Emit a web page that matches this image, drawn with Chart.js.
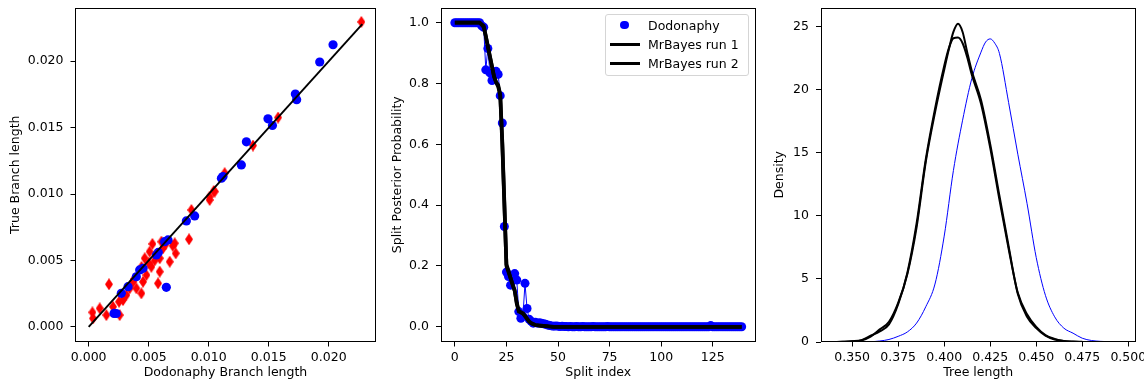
<!DOCTYPE html>
<html>
<head>
<meta charset="utf-8">
<script src="https://cdn.jsdelivr.net/npm/chart.js@4.4.1/dist/chart.umd.min.js"></script>
<style>
html,body{margin:0;padding:0;background:#fff;overflow:hidden;width:1144px;height:382px;position:relative;}
canvas{position:absolute;top:0;}
#legend{position:absolute;left:605px;top:14px;width:142px;height:60px;border:1px solid #d5d5d5;border-radius:3px;background:rgba(255,255,255,0.8);font-family:'DejaVu Sans';font-size:12.5px;line-height:15px;color:#000;}
#legend .t{position:absolute;left:42px;white-space:nowrap;}
#legend .dot{position:absolute;left:14px;top:5.75px;width:8.5px;height:8.5px;border-radius:50%;background:#0000ff;}
#legend .ln{position:absolute;left:4px;width:29.5px;height:3.5px;background:#000;}
</style>
</head>
<body>
<canvas id="c1" width="385" height="382" style="left:0;width:385px;height:382px"></canvas>
<canvas id="c2" width="380" height="382" style="left:385px;width:380px;height:382px"></canvas>
<canvas id="c3" width="415" height="382" style="left:765px;width:415px;height:382px"></canvas>
<div id="legend">
  <span class="dot"></span><span class="t" style="top:2.7px">Dodonaphy</span>
  <span class="ln" style="top:27.5px"></span><span class="t" style="top:22px">MrBayes run 1</span>
  <span class="ln" style="top:46.5px"></span><span class="t" style="top:41px">MrBayes run 2</span>
</div>
<script>
// ---------------- Panel 1: branch lengths ----------------
const branchTicks = [0, 0.005, 0.010, 0.015, 0.020];
const branchTickLabels = ['0.000', '0.005', '0.010', '0.015', '0.020'];
const identityLine = [0, 0.0228];
const dodoBranchX = [0.02036,0.01925,0.01722,0.01733,0.01494,0.01531,0.01314,0.01272,0.01119,0.01106,0.00883,0.00814,0.00661,0.00633,0.00564,0.00580,0.00425,0.00453,0.00397,0.00328,0.00272,0.00647,0.00211,0.00230];
const dodoBranchY = [0.02124,0.01994,0.01753,0.01710,0.01566,0.01516,0.01393,0.01219,0.01131,0.01119,0.00835,0.00797,0.00654,0.00641,0.00541,0.00560,0.00428,0.00440,0.00377,0.00302,0.00252,0.00297,0.00101,0.00100];
const mbBranchX = [0.02272,0.01578,0.01369,0.01133,0.01042,0.01008,0.01050,0.01008,0.00856,0.00836,0.00717,0.00531,0.00606,0.00725,0.00467,0.00592,0.00522,0.00592,0.00578,0.00439,0.00169,0.00369,0.00314,0.00342,0.00253,0.00203,0.00147,0.00031,0.00036,0.00258,0.00481,0.00508,0.00675,0.00619,0.00453,0.00397,0.00286,0.00092,0.00500,0.00440,0.00380,0.00550,0.00640,0.00700];
const mbBranchY = [0.02296,0.01576,0.01365,0.01157,0.01023,0.00980,0.01018,0.00955,0.00880,0.00659,0.00629,0.00624,0.00641,0.00553,0.00516,0.00516,0.00452,0.00415,0.00327,0.00252,0.00320,0.00339,0.00239,0.00290,0.00189,0.00151,0.00088,0.00109,0.00063,0.00088,0.00390,0.00566,0.00490,0.00591,0.00339,0.00290,0.00201,0.00139,0.00480,0.00450,0.00360,0.00500,0.00620,0.00610];

// ---------------- Panel 2: split posteriors ----------------
const splitTicks = [0, 25, 50, 75, 100, 125];
const splitTickLabels = ['0', '25', '50', '75', '100', '125'];
const probTicks = [0, 0.2, 0.4, 0.6, 0.8, 1.0];
const probTickLabels = ['0.0', '0.2', '0.4', '0.6', '0.8', '1.0'];
const dodoSplit = [
 1,1,1,1,1,1,1,1,1,1,
 1,1,1,0.99,0.985,0.845,0.915,0.835,0.81,0.83,
 0.84,0.83,0.76,0.67,0.33,0.18,0.165,0.137,0.16,0.175,
 0.154,0.05,0.028,0.035,0.143,0.06,0.025,0.018,0.012,0.015,
 0.012,0.013,0.012,0.01,0.008,0.006,0.004,0.003,0.002,0.003,
 0.002,0.001,0.002,0.001,0.001,0,0.001,0,0,0.001,
 0,0,0.001,0,0,0,0,0.001,0,0,
 0,0,0,0,0.001,0,0,0,0,0,
 0,0,0,0,0,0,0,0,0,0,
 0,0,0,0,0,0,0,0,0,0,
 0,0,0,0,0,0,0,0,0,0,
 0,0,0,0,0,0,0,0,0,0,
 0,0,0,0,0.004,0,0,0,0,0,
 0,0,0,0,0,0,0,0,0,0];
const mrBayesRun1 = [
 1,1,1,1,1,1,1,1,1,1,
 1,1,1,0.995,0.99,0.957,0.924,0.89,0.857,0.824,
 0.805,0.795,0.765,0.61,0.41,0.2,0.18,0.16,0.14,0.12,
 0.075,0.05,0.048,0.045,0.035,0.027,0.018,0.012,0.008,0.006,
 0.005,0.004,0.004,0.003,0.002,0.002,0.001,0.001,0,0,
 0,0,0,0,0,0,0,0,0,0,
 0,0,0,0,0,0,0,0,0,0,
 0,0,0,0,0,0,0,0,0,0,
 0,0,0,0,0,0,0,0,0,0,
 0,0,0,0,0,0,0,0,0,0,
 0,0,0,0,0,0,0,0,0,0,
 0,0,0,0,0,0,0,0,0,0,
 0,0,0,0,0,0,0,0,0,0,
 0,0,0,0,0,0,0,0,0,0];
const mrBayesRun2 = [
 1,1,1,1,1,1,1,1,1,1,
 1,1,1,0.993,0.985,0.955,0.92,0.888,0.855,0.822,
 0.803,0.79,0.76,0.6,0.4,0.205,0.185,0.16,0.138,0.118,
 0.08,0.052,0.047,0.043,0.036,0.026,0.017,0.012,0.009,0.006,
 0.005,0.004,0.003,0.003,0.002,0.001,0.001,0,0,0,
 0,0,0,0,0,0,0,0,0,0,
 0,0,0,0,0,0,0,0,0,0,
 0,0,0,0,0,0,0,0,0,0,
 0,0,0,0,0,0,0,0,0,0,
 0,0,0,0,0,0,0,0,0,0,
 0,0,0,0,0,0,0,0,0,0,
 0,0,0,0,0,0,0,0,0,0,
 0,0,0,0,0,0,0,0,0,0,
 0,0,0,0,0,0,0,0,0,0];
const splitIndex = dodoSplit.map((_, i) => i);

// ---------------- Panel 3: tree length densities ----------------
const treeTicks = [0.350, 0.375, 0.400, 0.425, 0.450, 0.475, 0.500];
const treeTickLabels = ['0.350', '0.375', '0.400', '0.425', '0.450', '0.475', '0.500'];
const densTicks = [0, 5, 10, 15, 20, 25];
const densTickLabels = ['0', '5', '10', '15', '20', '25'];
const mbTreeGrid = [0.340,0.345,0.350,0.355,0.360,0.365,0.370,0.375,0.380,0.385,0.390,0.395,0.400,0.4025,0.405,0.4075,0.410,0.4125,0.415,0.420,0.425,0.430,0.435,0.440,0.445,0.450,0.455,0.460,0.465,0.470,0.475];
const mbTreeDens1 = [0,0.02,0.05,0.12,0.42,1.0,1.6,3.1,5.4,9.1,14.3,18.2,21.6,23.2,24.6,25.25,24.6,23.0,21.5,19.2,15.7,11.6,7.6,3.8,2.0,1.1,0.5,0.2,0.07,0.02,0];
const mbTreeDens2 = [0,0.02,0.06,0.15,0.5,0.85,1.4,3.0,5.5,9.4,14.5,18.5,21.9,23.3,24.1,24.15,23.7,22.6,21.2,18.9,15.4,11.3,7.4,3.9,2.2,1.2,0.55,0.25,0.08,0.03,0.01];
const dodoTreeGrid = [0.355,0.360,0.365,0.370,0.375,0.380,0.385,0.390,0.395,0.400,0.405,0.410,0.415,0.420,0.4225,0.425,0.4275,0.430,0.435,0.440,0.445,0.450,0.455,0.460,0.465,0.470,0.475,0.480,0.485,0.490,0.495];
const dodoTreeDens = [0,0.02,0.08,0.2,0.45,0.8,1.5,2.8,4.6,8.4,13.6,17.6,20.9,23.0,23.8,24.05,23.7,22.9,19.0,14.9,11.0,6.7,3.7,2.0,1.1,0.7,0.3,0.12,0.05,0.02,0];

// ---------------- helpers ----------------
Chart.defaults.font.family = "'DejaVu Sans'";
Chart.defaults.font.size = 12.5;
Chart.defaults.color = '#000';

const zip = (xs, ys) => xs.map((x, i) => ({x: x, y: ys[i]}));

function axis(o) {
  return {
    type: 'linear', bounds: 'data', min: o.min, max: o.max,
    afterBuildTicks: s => { s.ticks = o.ticks.map(v => ({value: v})); },
    afterFit: s => {
      if (o.w != null) s.width = o.w;
      if (o.h != null) s.height = o.h;
      s.paddingTop = 0; s.paddingBottom = 0; s.paddingLeft = 0; s.paddingRight = 0;
    },
    ticks: { callback: (v, i) => o.labels[i], padding: o.pad, color: '#000', maxRotation: 0, minRotation: 0, autoSkip: false },
    grid: { drawOnChartArea: false, drawTicks: true, tickLength: 4.5, color: '#000', lineWidth: 1 },
    border: { display: false },
    title: { display: true, text: o.title, color: '#000', padding: o.tpad }
  };
}

const framePlugin = {
  id: 'frame',
  afterDraw(chart) {
    const a = chart.chartArea, ctx = chart.ctx;
    ctx.save();
    ctx.strokeStyle = '#000';
    ctx.lineWidth = 1;
    const l = Math.round(a.left) + 0.5, t = Math.round(a.top) + 0.5;
    const r = Math.round(a.right) - 0.5, b = Math.round(a.bottom) - 0.5;
    ctx.strokeRect(l, t, r - l, b - t);
    ctx.restore();
  }
};

function thinDiamond(w, h, color) {
  const c = document.createElement('canvas');
  c.width = w; c.height = h;
  const g = c.getContext('2d');
  g.fillStyle = color;
  g.beginPath();
  g.moveTo(w / 2, 0); g.lineTo(w, h / 2); g.lineTo(w / 2, h); g.lineTo(0, h / 2);
  g.closePath(); g.fill();
  return c;
}

const baseOpts = (padRight) => ({
  responsive: false, animation: false, devicePixelRatio: 1,
  layout: { padding: { top: 7.5, right: padRight, bottom: 0, left: 0 } },
  plugins: { legend: { display: false }, tooltip: { enabled: false } }
});

// ---------------- Chart 1 ----------------
new Chart(document.getElementById('c1'), {
  type: 'scatter',
  data: { datasets: [
    { label: 'y = x', type: 'line', data: zip(identityLine, identityLine), borderColor: '#000', borderWidth: 1.9, pointRadius: 0, fill: false, order: 0 },
    { label: 'Dodonaphy', data: zip(dodoBranchX, dodoBranchY), backgroundColor: '#0000ff', borderWidth: 0, pointRadius: 4.6, order: 1 },
    { label: 'MrBayes', data: zip(mbBranchX, mbBranchY), pointStyle: thinDiamond(8, 12, '#ff0000'), backgroundColor: '#ff0000', borderWidth: 0, pointRadius: 5, order: 2 }
  ]},
  options: Object.assign(baseOpts(9), {
    scales: {
      x: axis({ min: -0.00114, max: 0.02394, ticks: branchTicks, labels: branchTickLabels, pad: 4, h: 40, title: 'Dodonaphy Branch length', tpad: {top: 0, bottom: 1.4} }),
      y: axis({ min: -0.001145, max: 0.024045, ticks: branchTicks, labels: branchTickLabels, pad: 7, w: 75, title: 'True Branch length', tpad: {top: 8, bottom: 0} })
    }
  }),
  plugins: [framePlugin]
});

// ---------------- Chart 2 ----------------
new Chart(document.getElementById('c2'), {
  type: 'scatter',
  data: { datasets: [
    { label: 'MrBayes run 1', type: 'line', data: zip(splitIndex, mrBayesRun1), borderColor: '#000', borderWidth: 3.7, pointRadius: 0, fill: false, order: 0 },
    { label: 'MrBayes run 2', type: 'line', data: zip(splitIndex, mrBayesRun2), borderColor: '#000', borderWidth: 3.7, pointRadius: 0, fill: false, order: 1 },
    { label: 'Dodonaphy', type: 'line', data: zip(splitIndex, dodoSplit), borderColor: '#0000ff', borderWidth: 1, backgroundColor: '#0000ff', pointBackgroundColor: '#0000ff', pointBorderWidth: 0, pointRadius: 4.5, fill: false, order: 2 }
  ]},
  options: Object.assign(baseOpts(9), {
    scales: {
      x: axis({ min: -6.95, max: 145.95, ticks: splitTicks, labels: splitTickLabels, pad: 4, h: 40, title: 'Split index', tpad: {top: 0, bottom: 1.4} }),
      y: axis({ min: -0.05, max: 1.05, ticks: probTicks, labels: probTickLabels, pad: 7, w: 55.5, title: 'Split Posterior Probability', tpad: {top: 5, bottom: 0} })
    }
  }),
  plugins: [framePlugin]
});

// ---------------- Chart 3 ----------------
new Chart(document.getElementById('c3'), {
  type: 'scatter',
  data: { datasets: [
    { label: 'MrBayes run 1', type: 'line', data: zip(mbTreeGrid, mbTreeDens1), borderColor: '#000', borderWidth: 2, pointRadius: 0, fill: false, cubicInterpolationMode: 'monotone', order: 0 },
    { label: 'MrBayes run 2', type: 'line', data: zip(mbTreeGrid, mbTreeDens2), borderColor: '#000', borderWidth: 2, pointRadius: 0, fill: false, cubicInterpolationMode: 'monotone', order: 1 },
    { label: 'Dodonaphy', type: 'line', data: zip(dodoTreeGrid, dodoTreeDens), borderColor: '#0000ff', borderWidth: 1, pointRadius: 0, fill: false, cubicInterpolationMode: 'monotone', order: 2 }
  ]},
  options: Object.assign(baseOpts(44), {
    scales: {
      x: axis({ min: 0.3328, max: 0.5042, ticks: treeTicks, labels: treeTickLabels, pad: 4, h: 40, title: 'Tree length', tpad: {top: 0, bottom: 1.4} }),
      y: axis({ min: 0, max: 26.54, ticks: densTicks, labels: densTickLabels, pad: 7, w: 55.5, title: 'Density', tpad: {top: 7, bottom: 0} })
    }
  }),
  plugins: [framePlugin]
});
</script>
</body>
</html>
